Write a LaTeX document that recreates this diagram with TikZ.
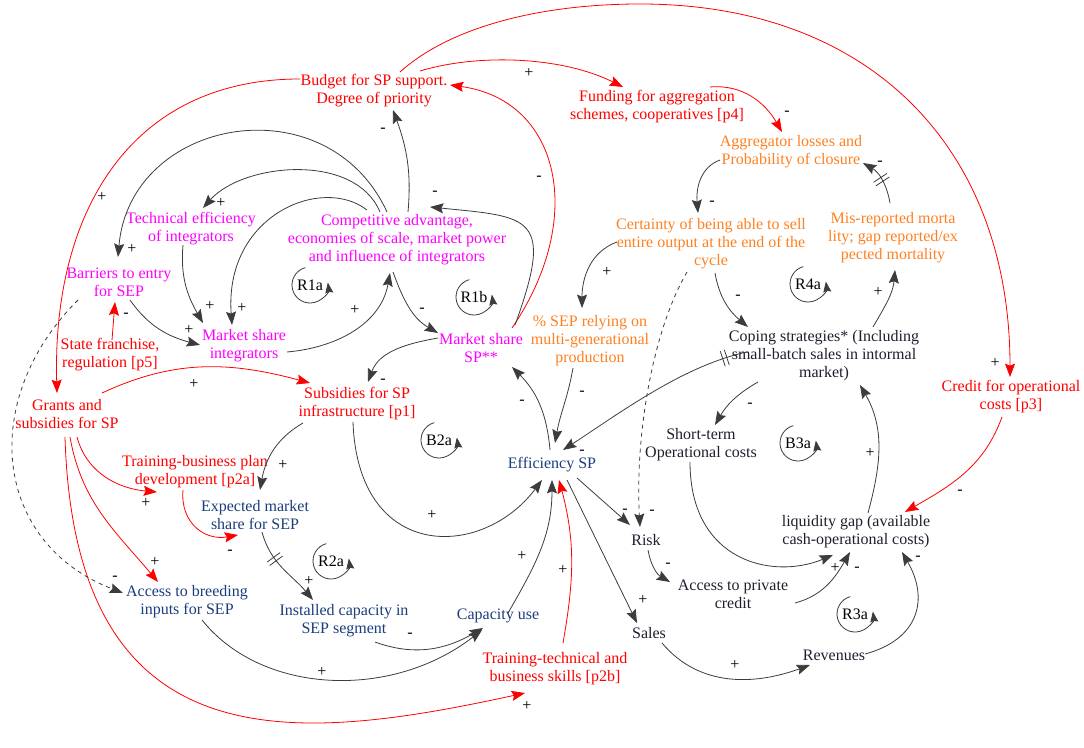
\documentclass[tikz,border=0pt]{standalone}
\usepackage{fontspec}
\setmainfont{Liberation Serif}
\usetikzlibrary{arrows.meta,decorations.markings}

\definecolor{cldred}{RGB}{255,0,0}
\definecolor{cldorange}{RGB}{255,128,32}
\definecolor{cldmagenta}{RGB}{255,0,255}
\definecolor{cldblue}{RGB}{26,61,124}
\definecolor{cldtext}{RGB}{30,30,45}
\definecolor{cldline}{RGB}{60,60,60}

\tikzset{
  var/.style={align=center, inner sep=1pt, font=\fontsize{12}{13.5}\selectfont},
  policy/.style={var, text=cldred},
  farm/.style={var, text=cldorange},
  integ/.style={var, text=cldmagenta},
  segm/.style={var, text=cldblue},
  econ/.style={var, text=cldtext},
  link/.style={draw=cldline, line width=0.6pt, -{Stealth[length=10pt,width=7.5pt,inset=1.5pt]}},
  redlink/.style={link, draw=cldred},
  dashlink/.style={link, dashed},
  sgn/.style={pos=1, inner sep=0pt, text=black, font=\fontsize{12}{13.5}\selectfont},
  delaymark/.style={postaction={decorate, decoration={markings, mark=at position #1 with
    {\draw[cldline, line width=0.6pt, -] (-1.6pt,-6pt) -- (-1.6pt,6pt) (1.6pt,-6pt) -- (1.6pt,6pt);}}}},
  loopsym/.style={circle, minimum size=27pt, inner sep=0pt, outer sep=0pt, font=\fontsize{12}{13.5}\selectfont},
  looparrow/.style={draw=cldline, line width=0.6pt, -{Stealth[length=8pt,width=6pt,inset=1pt]}}
}

\begin{document}
\begin{tikzpicture}[x=0.75pt, y=-0.75pt]
  \useasboundingbox (0,0) rectangle (1084,748);
  % policies
  \node[policy] (budget) at (374,91) {Budget for SP support.\\Degree of priority};
  \node[policy] (funding) at (657,107) {Funding for aggregation\\schemes, cooperatives [p4]};
  \node[policy] (statefr) at (110,355) {State franchise,\\regulation [p5]};
  \node[policy] (grants) at (67,414) {Grants and\\subsidies for SP};
  \node[policy] (subsinfra) at (357,404) {Subsidies for SP\\infrastructure [p1]};
  \node[policy] (credit) at (1011,397) {Credit for operational\\costs [p3]};
  \node[policy] (trainbp) at (195,472) {Training-business plan\\development [p2a]};
  \node[policy] (traintech) at (555,669) {Training-technical and\\business skills [p2b]};
  % integrators
  \node[integ] (techeff) at (191,229) {Technical efficiency\\of integrators};
  \node[integ] (compadv) at (397,240) {Competitive advantage,\\economies of scale, market power\\and influence of integrators};
  \node[integ] (barriers) at (119,282) {Barriers to entry\\for SEP};
  \node[integ] (msint) at (244,346) {Market share\\integrators};
  \node[integ] (mssp) at (481,348) {Market share\\SP**};
  % aggregator
  \node[farm] (aggr) at (791,152) {Aggregator losses and\\Probability of closure};
  \node[farm] (certainty) at (711,244) {Certainty of being able to sell\\entire output at the end of the\\cycle};
  \node[farm] (misrep) at (893,238) {Mis-reported morta\\lity; gap reported/ex\\pected mortality};
  \node[farm] (sepmulti) at (590,341) {\% SEP relying on\\multi-generational\\production};
  % SEP segment
  \node[segm] (effsp) at (552,465) {Efficiency SP};
  \node[segm] (expshare) at (255,515) {Expected market\\share for SEP};
  \node[segm] (breeding) at (187,602) {Access to breeding\\inputs for SEP};
  \node[segm] (instcap) at (344,621) {Installed capacity in\\SEP segment};
  \node[segm] (capuse) at (498,616) {Capacity use};
  % finance
  \node[econ] (coping) at (824,356) {Coping strategies* (Including\\small-batch sales in intormal\\market)};
  \node[econ] (shortterm) at (701,445) {Short-term\\Operational costs};
  \node[econ] (liqgap) at (856,532) {liquidity gap (available\\cash-operational costs)};
  \node[econ] (risk) at (646,540) {Risk};
  \node[econ] (privcredit) at (733,594) {Access to private\\credit};
  \node[econ] (sales) at (649,633) {Sales};
  \node[econ] (revenues) at (834,655) {Revenues};
  % loops
  \foreach \nm/\lbl/\x/\y in {r1a/R1a/310/285, r1b/R1b/474/297, r4a/R4a/808/284,
      b2a/B2a/439/440, b3a/B3a/798/443, r2a/R2a/331/561, r3a/R3a/855/614} {
    \node[loopsym] (\nm) at (\x,\y) {\lbl};
    \draw[looparrow] (\nm.105) arc[start angle=105, end angle=368, radius=13.5pt];
  }
  % red links
  \draw[redlink] ([shift={(-74,-12)}]budget.center) .. controls +(-170,0) and +(-5,-180) .. ([shift={(-10,-21)}]grants.center) node[sgn, shift={(45,-196)}] {+};
  \draw[redlink] ([shift={(46,-20)}]budget.center) .. controls +(60,-18) and +(-60,-30) .. ([shift={(-34,-20)}]funding.center) node[sgn, shift={(-94,-14)}] {+};
  \draw[redlink] ([shift={(26,-19)}]budget.center) .. controls +(50,-45) and +(-100,0) .. ++(240,-68)
    .. controls +(232,0) and +(0,-227) .. ([shift={(-1,-20)}]credit.center) node[sgn, shift={(-15,-14)}] {+};
  \draw[redlink] ([shift={(53,-20)}]funding.center) to[out=5, in=120] node[sgn, shift={(5,-19)}] {-} ([shift={(-9,-20)}]aggr.center);
  \draw[redlink] ([shift={(31,-20)}]mssp.center) .. controls +(75,-110) and +(110,15) .. ([shift={(76,-6)}]budget.center) node[sgn, shift={(89,93)}] {-};
  \draw[redlink] ([shift={(35,-21)}]grants.center) to[out=25, in=165] node[sgn, shift={(-116,1)}] {+} ([shift={(-47,-21)}]subsinfra.center);
  \draw[redlink] ([shift={(10,23)}]grants.center) to[out=-75, in=175] node[sgn, shift={(-11,11)}] {+} ([shift={(-38,20)}]trainbp.center);
  \draw[redlink] ([shift={(3,23)}]grants.center) to[out=-80, in=130] node[sgn, shift={(-3,-20)}] {+} ([shift={(-29,-20)}]breeding.center);
  \draw[redlink] ([shift={(-2,23)}]grants.center) .. controls +(10,330) and +(-230,50) .. ([shift={(-30,24)}]traintech.center) node[sgn, shift={(2,13)}] {+};
  \draw[redlink] ([shift={(-12,18)}]trainbp.center) to[out=-95, in=190, looseness=1.2] node[sgn, shift={(-8,17)}] {-} ([shift={(-17,20)}]expshare.center);
  \draw[redlink] ([shift={(8,-26)}]traintech.center) to[out=80, in=-75] node[sgn, shift={(4,90)}] {+} ([shift={(7,15)}]effsp.center);
  \draw[redlink] ([shift={(-9,20)}]credit.center) to[out=-110, in=30] node[sgn, shift={(55,-20)}] {-} ([shift={(49,-20)}]liqgap.center);
  \draw[redlink] ([shift={(2,-15)}]statefr.center) -- node[sgn, shift={(11,13)}] {-} ([shift={(-4,20)}]barriers.center);
  % integrators links
  \draw[link] ([shift={(11,-28)}]compadv.center) to[out=85, in=-70] node[sgn, shift={(-10,20)}] {-} ([shift={(19,19)}]budget.center);
  \draw[link] ([shift={(-17,-28)}]compadv.center) .. controls +(-25,-60) and +(40,-45) .. ([shift={(12,-21)}]techeff.center) node[sgn, shift={(18,-5)}] {+};
  \draw[link] ([shift={(-10,-28)}]compadv.center) .. controls +(-60,-130) and +(12,-140) .. ([shift={(-1,-25)}]barriers.center) node[sgn, shift={(14,-8)}] {+};
  \draw[link] ([shift={(-30,-30)}]compadv.center) .. controls +(-45,-35) and +(-8,-110) .. ([shift={(-12,-21)}]msint.center) node[sgn, shift={(10,-17)}] {+};
  \draw[link] ([shift={(-8,16)}]techeff.center) to[out=-95, in=120] node[sgn, shift={(7,-17)}] {+} ([shift={(-41,-23)}]msint.center);
  \draw[link] ([shift={(11,18)}]barriers.center) to[out=-55, in=165] node[sgn, shift={(-11,-15)}] {+} ([shift={(-44,-1)}]msint.center);
  \draw[link] ([shift={(43,6)}]msint.center) to[out=5, in=-100] node[sgn, shift={(-35,37)}] {+} ([shift={(-7,33)}]compadv.center);
  \draw[link] ([shift={(-4,32)}]compadv.center) to[out=-70, in=150] node[sgn, shift={(-16,-23)}] {-} ([shift={(-43,-15)}]mssp.center);
  \draw[link] ([shift={(34,-23)}]mssp.center) .. controls +(40,-110) and +(100,10) .. ([shift={(33,-33)}]compadv.center) node[sgn, shift={(5,-14)}] {-};
  \draw[link] ([shift={(-43,-10)}]mssp.center) to[out=190, in=70] node[sgn, shift={(15,-1)}] {-} ([shift={(11,-22)}]subsinfra.center);
  \draw[link] ([shift={(-54,19)}]subsinfra.center) to[out=-150, in=80] node[sgn, shift={(23,-25)}] {+} ([shift={(5,-25)}]expshare.center);
  \draw[link] ([shift={(-4,18)}]subsinfra.center) .. controls +(5,140) and +(-60,80) .. ([shift={(-10,15)}]effsp.center) node[sgn, shift={(-110,35)}] {+};
  \draw[link] ([shift={(-2,-15)}]effsp.center) to[out=95, in=-45] node[sgn, shift={(10,35)}] {-} ([shift={(31,19)}]mssp.center);
  % aggregator links
  \draw[link] ([shift={(-17,27)}]sepmulti.center) to[out=-100, in=80] node[sgn, shift={(27,-50)}] {-} ([shift={(3,-22)}]effsp.center);
  \draw[link] ([shift={(-94,-2)}]certainty.center) to[out=200, in=90] node[sgn, shift={(25,-36)}] {+} ([shift={(-8,-33)}]sepmulti.center);
  \draw[link] ([shift={(-71,8)}]aggr.center) to[out=200, in=95] node[sgn, shift={(14,-10)}] {-} ([shift={(-13,-31)}]certainty.center);
  \draw[link] ([shift={(4,29)}]certainty.center) to[out=-80, in=140] node[sgn, shift={(-10,-30)}] {-} ([shift={(-76,-29)}]coping.center);
  \draw[link, delaymark=0.5] ([shift={(-3,-35)}]misrep.center) to[out=100, in=-30] node[sgn, shift={(17,0)}] {-} ([shift={(72,11)}]aggr.center);
  \draw[link] ([shift={(49,-29)}]coping.center) to[out=60, in=-95] node[sgn, shift={(-17,22)}] {+} ([shift={(2,32)}]misrep.center);
  \draw[link, delaymark=0.11] ([shift={(-77,-4)}]coping.center) to[out=192, in=33, looseness=0.8] node[sgn, shift={(19,2)}] {-} ([shift={(11,-15)}]effsp.center);
  \draw[dashlink] ([shift={(-24,28)}]certainty.center) .. controls +(-35,60) and +(-5,-90) .. ([shift={(-6,-13)}]risk.center) node[sgn, shift={(12,-15)}] {-};
  \draw[dashlink] ([shift={(-41,18)}]barriers.center) .. controls +(-100,100) and +(-130,-50) .. ([shift={(-64,-9)}]breeding.center) node[sgn, shift={(-8,-15)}] {-};
  % finance links
  \draw[link] ([shift={(-66,26)}]coping.center) to[out=-150, in=60] node[sgn, shift={(35,-20)}] {-} ([shift={(14,-20)}]shortterm.center);
  \draw[link] ([shift={(-11,17)}]shortterm.center) .. controls +(0,100) and +(-60,25) .. ([shift={(-23,23)}]liqgap.center) node[sgn, shift={(2,13)}] {+};
  \draw[link] ([shift={(62,9)}]privcredit.center) to[out=15, in=240] node[sgn, shift={(7,17)}] {-} ([shift={(-6,20)}]liqgap.center);
  \draw[link] ([shift={(12,-19)}]liqgap.center) to[out=75, in=-60] node[sgn, shift={(10,68)}] {+} ([shift={(36,29)}]coping.center);
  \draw[link] ([shift={(31,-1)}]revenues.center) to[out=15, in=-60, looseness=1.3] node[sgn, shift={(16,6)}] {-} ([shift={(46,20)}]liqgap.center);
  \draw[link] ([shift={(13,10)}]sales.center) to[out=-50, in=200] node[sgn, shift={(-75,0)}] {+} ([shift={(-24,10)}]revenues.center);
  \draw[link] ([shift={(15,15)}]effsp.center) -- node[sgn, shift={(6,-23)}] {+} ([shift={(-12,-10)}]sales.center);
  \draw[link] ([shift={(25,13)}]effsp.center) -- node[sgn, shift={(-5,-14)}] {-} ([shift={(-16,-15)}]risk.center);
  \draw[link] ([shift={(2,10)}]risk.center) to[out=-80, in=150] node[sgn, shift={(-2,-17)}] {-} ([shift={(-63,-12)}]privcredit.center);
  % capacity links
  \draw[link, delaymark=0.35] ([shift={(7,17)}]expshare.center) to[out=-75, in=130] node[sgn, shift={(-4,-19)}] {+} ([shift={(-31,-21)}]instcap.center);
  \draw[link] ([shift={(31,21)}]instcap.center) to[out=-20, in=210] node[sgn, shift={(-73,7)}] {-} ([shift={(-15,12)}]capuse.center);
  \draw[link] ([shift={(15,18)}]breeding.center) .. controls +(60,75) and +(-90,70) .. ([shift={(-16,14)}]capuse.center) node[sgn, shift={(-160,42)}] {+};
  \draw[link] ([shift={(10,-3)}]capuse.center) to[out=60, in=-90] node[sgn, shift={(-30,76)}] {+} ([shift={(0,15)}]effsp.center);
\end{tikzpicture}
\end{document}
